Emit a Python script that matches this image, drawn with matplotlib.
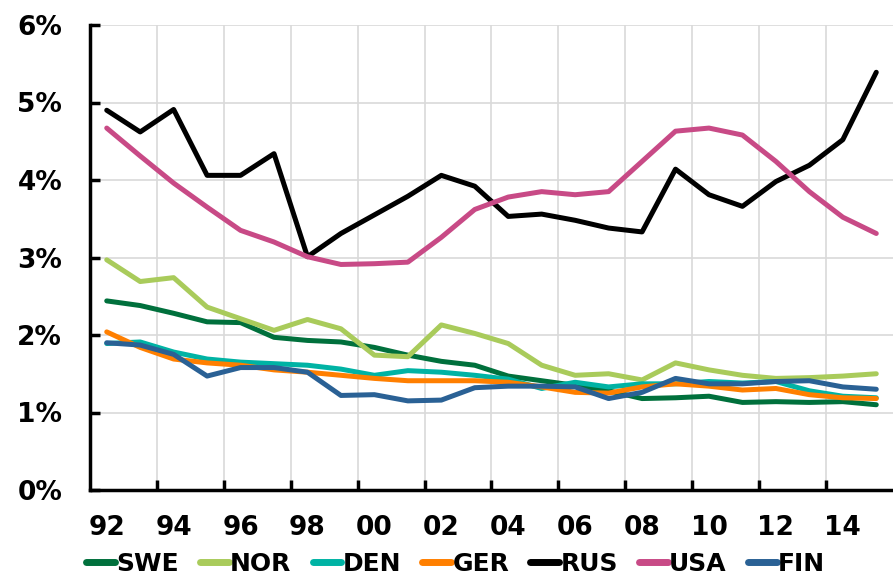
import numpy as np
import matplotlib.pyplot as plt
from matplotlib.ticker import FuncFormatter

years = list(range(1992, 2016))
year_labels = ["92", "94", "96", "98", "00", "02", "04", "06", "08", "10", "12", "14"]

swe = [2.44, 2.38, 2.28, 2.17, 2.16, 1.97, 1.93, 1.91, 1.84, 1.74, 1.66, 1.61,
       1.47, 1.41, 1.35, 1.28, 1.18, 1.19, 1.21, 1.13, 1.14, 1.13, 1.14, 1.10]
nor = [2.97, 2.69, 2.74, 2.36, 2.21, 2.06, 2.20, 2.08, 1.74, 1.72, 2.13, 2.02,
       1.89, 1.61, 1.48, 1.50, 1.42, 1.64, 1.55, 1.48, 1.44, 1.45, 1.47, 1.50]
den = [1.89, 1.91, 1.78, 1.69, 1.65, 1.63, 1.61, 1.56, 1.48, 1.54, 1.52, 1.48,
       1.43, 1.31, 1.39, 1.33, 1.37, 1.37, 1.40, 1.38, 1.40, 1.28, 1.21, 1.19]
ger = [2.04, 1.84, 1.69, 1.64, 1.61, 1.55, 1.52, 1.48, 1.44, 1.41, 1.41, 1.41,
       1.39, 1.33, 1.26, 1.25, 1.33, 1.37, 1.34, 1.29, 1.31, 1.23, 1.19, 1.18]
rus = [4.90, 4.62, 4.91, 4.06, 4.06, 4.34, 3.01, 3.31, 3.55, 3.79, 4.06, 3.92,
       3.53, 3.56, 3.48, 3.38, 3.33, 4.14, 3.81, 3.66, 3.98, 4.19, 4.52, 5.39]
usa = [4.67, 4.31, 3.96, 3.65, 3.35, 3.20, 3.01, 2.91, 2.92, 2.94, 3.26, 3.62,
       3.78, 3.85, 3.81, 3.85, 4.24, 4.63, 4.67, 4.58, 4.24, 3.85, 3.52, 3.31]
fin = [1.90, 1.87, 1.75, 1.47, 1.58, 1.58, 1.52, 1.22, 1.23, 1.15, 1.16, 1.32,
       1.34, 1.34, 1.33, 1.18, 1.26, 1.44, 1.37, 1.37, 1.40, 1.41, 1.33, 1.30]

series = [
    ("SWE", swe, "#00703c"),
    ("NOR", nor, "#a9cb5b"),
    ("DEN", den, "#00b3a4"),
    ("GER", ger, "#ff7f00"),
    ("RUS", rus, "#000000"),
    ("USA", usa, "#c84a86"),
    ("FIN", fin, "#2a6195"),
]

plt.rcParams['font.family'] = ['DejaVu Sans']
plt.rcParams['font.weight'] = 'bold'

fig = plt.figure(figsize=(8.93, 5.78), dpi=100)
ax = fig.add_axes([90 / 893, 1 - 490 / 578, 803 / 893, 465 / 578])

x = np.arange(len(years))
for name, vals, col in series:
    ax.plot(x, vals, color=col, lw=3.6, label=name, solid_capstyle='round')

ax.set_xlim(-0.5, len(years) - 0.5)
ax.set_ylim(0, 6)

# category boundaries every two years (Excel style)
ax.set_xticks(np.arange(1.5, len(years) - 1, 2))
ax.set_xticklabels([])
ax.set_xticks(np.arange(0, len(years), 2), minor=True)
ax.set_xticklabels(year_labels, minor=True)
ax.tick_params(axis='x', which='minor', length=0, pad=18, labelsize=19)
ax.tick_params(axis='x', which='major', direction='in', length=7, width=2.5)

ax.set_yticks(range(0, 7))
ax.yaxis.set_major_formatter(FuncFormatter(lambda v, p: f"{int(v)}%"))
ax.tick_params(axis='y', direction='in', length=7, width=2.5, labelsize=19, pad=20)

ax.grid(True, which='major', color='#d9d9d9', lw=1.2)
ax.set_axisbelow(True)
for s in ['top', 'right']:
    ax.spines[s].set_visible(False)
for s in ['left', 'bottom']:
    ax.spines[s].set_linewidth(2.5)

leg = fig.legend(loc='center left', bbox_to_anchor=(86 / 893, 1 - 564 / 578), ncol=7,
                 frameon=False, fontsize=18, handlelength=1.15, handletextpad=0.05,
                 columnspacing=0.85, borderaxespad=0, borderpad=0)
for t in leg.get_texts():
    t.set_fontweight('bold')
for h in leg.get_lines():
    h.set_linewidth(5)

fig.savefig("out.png", dpi=100)
